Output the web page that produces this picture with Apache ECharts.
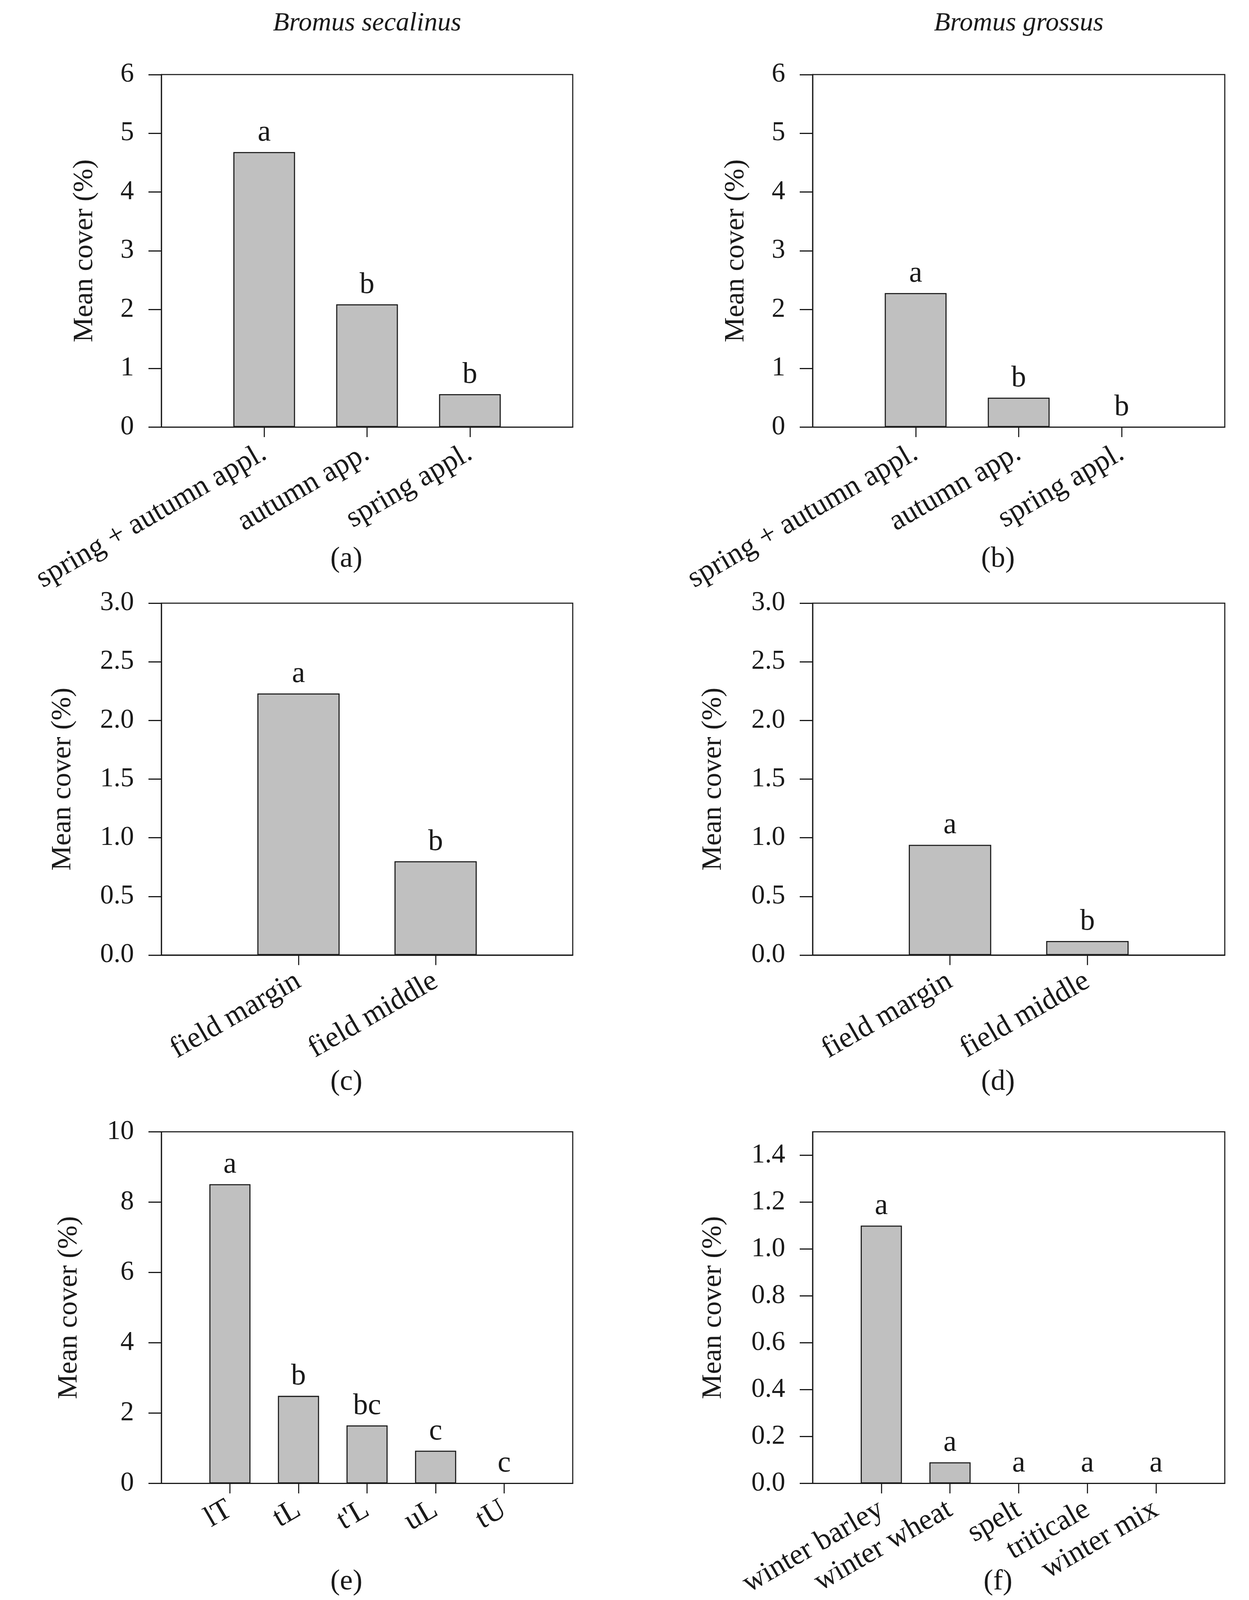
<!DOCTYPE html>
<html lang="en" style="height: 100%">

<head>
    <meta charset="utf-8">
</head>

<body style="height: 100%; margin: 0; background: #ffffff">
    <div id="container" style="height: 100%; width: 100%"></div>

    <script type="text/javascript" src="https://cdn.jsdelivr.net/npm/echarts@6.0.0/dist/echarts.min.js"></script>

    <script type="text/javascript">
        // ---- data ----
        const catsAB = ['spring + autumn appl.', 'autumn app.', 'spring appl.'];
        const valsA = [4.68, 2.09, 0.56];
        const lettersA = ['a', 'b', 'b'];
        const valsB = [2.28, 0.50, 0];
        const lettersB = ['a', 'b', 'b'];

        const catsCD = ['field margin', 'field middle'];
        const valsC = [2.23, 0.80];
        const lettersC = ['a', 'b'];
        const valsD = [0.94, 0.12];
        const lettersD = ['a', 'b'];

        const catsE = ['lT', 'tL', "t'L", 'uL', 'tU'];
        const valsE = [8.51, 2.49, 1.65, 0.93, 0];
        const lettersE = ['a', 'b', 'bc', 'c', 'c'];

        const catsF = ['winter barley', 'winter wheat', 'spelt', 'triticale', 'winter mix'];
        const valsF = [1.10, 0.09, 0, 0, 0];
        const lettersF = ['a', 'a', 'a', 'a', 'a'];

        const ticksAB = [0, 1, 2, 3, 4, 5, 6];
        const ticksCD = [0, 0.5, 1.0, 1.5, 2.0, 2.5, 3.0];
        const ticksE = [0, 2, 4, 6, 8, 10];
        const ticksF = [0, 0.2, 0.4, 0.6, 0.8, 1.0, 1.2, 1.4];

        const speciesTitles = ['Bromus secalinus', 'Bromus grossus'];
        const panelTags = ['(a)', '(b)', '(c)', '(d)', '(e)', '(f)'];

        // ---- styling ----
        const FONT = '"Liberation Serif", "Times New Roman", serif';
        const INK = '#1a1a1a';

        var dom = document.getElementById('container');
        var myChart = echarts.init(dom, null, { renderer: 'canvas' });

        // layout is measured on a 3197 x 4788 page, scaled to whatever we get
        const W = dom.clientWidth || 3197;
        const H = dom.clientHeight || 4788;
        const sx = W / 3197, sy = H / 4788, sf = Math.sqrt(sx * sy);
        const px = (v) => v * sx, py = (v) => v * sy, fs = (v) => v * sf;
        const LINE_W = Math.max(2, 3 * sf);

        // column / row boxes
        const colLeft = [413, 2080];
        const colWidth = [1053, 1055];
        const rowTop = [223, 1805, 3387];
        const rowHeight = [1055, 1053, 1052];

        const panels = [
            { cats: catsAB, vals: valsA, letters: lettersA, ticks: ticksAB, max: 6, dec: 0, nameGap: 160 },
            { cats: catsAB, vals: valsB, letters: lettersB, ticks: ticksAB, max: 6, dec: 0, nameGap: 160 },
            { cats: catsCD, vals: valsC, letters: lettersC, ticks: ticksCD, max: 3, dec: 1, nameGap: 216 },
            { cats: catsCD, vals: valsD, letters: lettersD, ticks: ticksCD, max: 3, dec: 1, nameGap: 218 },
            { cats: catsE, vals: valsE, letters: lettersE, ticks: ticksE, max: 10, dec: 0, nameGap: 200 },
            { cats: catsF, vals: valsF, letters: lettersF, ticks: ticksF, max: 1.5, dec: 1, nameGap: 218 },
        ];

        const grids = [], xAxes = [], yAxes = [], series = [];

        panels.forEach((p, i) => {
            const col = i % 2, row = Math.floor(i / 2);
            grids.push({
                left: px(colLeft[col]),
                top: py(rowTop[row]),
                width: px(colWidth[col]),
                height: py(rowHeight[row]),
                show: true,
                borderColor: INK,
                borderWidth: LINE_W,
                backgroundColor: 'transparent',
                containLabel: false,
                outerBoundsMode: 'none'
            });

            // pad the categories with empty slots so the bars sit at 1..n of 0..n+1
            const padded = [''].concat(p.cats, ['']);
            const isReal = (idx) => idx > 0 && idx < padded.length - 1;

            xAxes.push({
                type: 'category',
                gridIndex: i,
                data: padded,
                boundaryGap: false,
                axisLine: { show: true, lineStyle: { color: INK, width: LINE_W } },
                axisTick: { show: true, length: py(30), interval: (idx) => isReal(idx), lineStyle: { color: INK, width: LINE_W } },
                axisLabel: {
                    interval: (idx) => isReal(idx),
                    rotate: 30,
                    margin: py(72),
                    fontFamily: FONT,
                    fontSize: fs(82),
                    color: INK
                },
                splitLine: { show: false }
            });

            yAxes.push({
                type: 'value',
                gridIndex: i,
                min: 0,
                max: p.max,
                name: 'Mean cover (%)',
                nameLocation: 'middle',
                nameGap: px(p.nameGap),
                nameTextStyle: { fontFamily: FONT, fontSize: fs(78), color: INK },
                axisLine: { show: true, lineStyle: { color: INK, width: LINE_W } },
                axisTick: { show: true, length: px(33), customValues: p.ticks, lineStyle: { color: INK, width: LINE_W } },
                axisLabel: {
                    customValues: p.ticks,
                    margin: px(70),
                    fontFamily: FONT,
                    fontSize: fs(75),
                    color: INK,
                    formatter: (v) => Number(v).toFixed(p.dec)
                },
                splitLine: { show: false }
            });

            series.push({
                type: 'bar',
                xAxisIndex: i,
                yAxisIndex: i,
                barWidth: '60%',
                data: [null].concat(p.vals, [null]),
                itemStyle: { color: '#c0c0c0', borderColor: INK, borderWidth: LINE_W },
                label: {
                    show: true,
                    position: 'top',
                    distance: py(13),
                    fontFamily: FONT,
                    fontSize: fs(82),
                    color: INK,
                    formatter: (d) => p.letters[d.dataIndex - 1]
                },
                emphasis: { disabled: true },
                animation: false
            });
        });

        const titles = [];
        speciesTitles.forEach((t, c) => {
            titles.push({
                text: t,
                left: px(colLeft[c] + colWidth[c] / 2),
                top: py(30),
                textAlign: 'center',
                padding: 0,
                textStyle: { fontFamily: FONT, fontStyle: 'italic', fontWeight: 'normal', fontSize: fs(74), color: INK }
            });
        });
        const tagTop = [1630, 3195, 4690];
        panelTags.forEach((t, i) => {
            const col = i % 2, row = Math.floor(i / 2);
            titles.push({
                text: t,
                left: px(colLeft[col] + colWidth[col] / 2 - 53),
                top: py(tagTop[row]),
                textAlign: 'center',
                padding: 0,
                textStyle: { fontFamily: FONT, fontWeight: 'normal', fontSize: fs(80), color: INK }
            });
        });

        var option = {
            backgroundColor: '#ffffff',
            animation: false,
            title: titles,
            grid: grids,
            xAxis: xAxes,
            yAxis: yAxes,
            series: series
        };

        myChart.setOption(option);
        window.addEventListener('resize', myChart.resize);
    </script>
</body>

</html>
